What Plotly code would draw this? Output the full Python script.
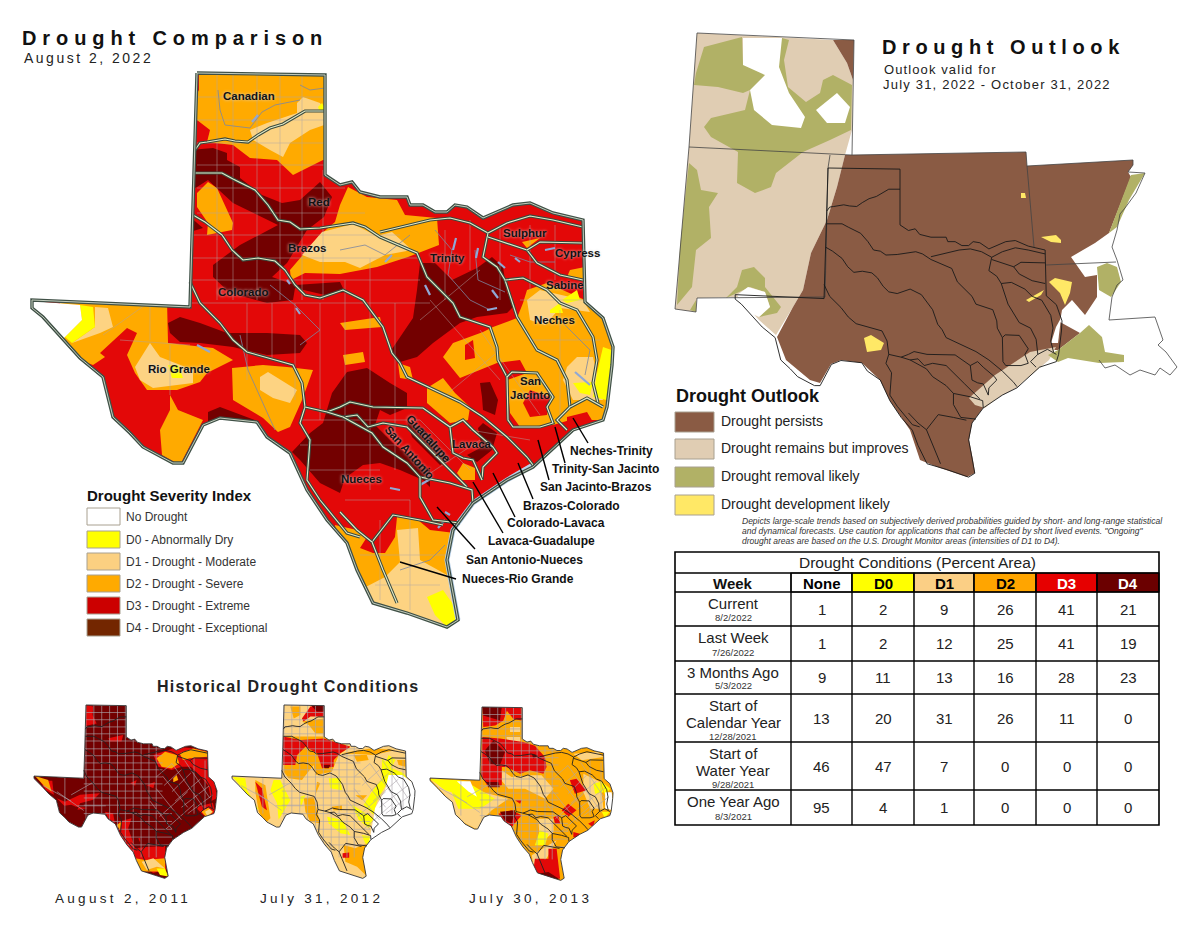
import plotly.graph_objects as go

D0 = "#FFFF00"
D1 = "#FDD382"
D2 = "#FFAA00"
D3 = "#E30808"
D4 = "#730000"
OUT_BROWN = "#8A5B44"
OUT_TAN = "#E0CDB3"
OUT_GREEN = "#B1B166"
OUT_YELLOW = "#FFE866"

# ---- Texas, in main map pixels
texas = [(197,73),(325,75),(325,175),(340,185),(352,182),(360,192),(380,197),(397,197),(407,197),(410,205),
         (423,205),(435,212),(447,212),(455,205),(467,207),(483,218),(513,205),(530,203),(553,213),(583,220),
         (585,302),(603,318),(613,347),(612,365),(607,407),(603,420),(573,430),(533,467),(507,480),(473,503),
         (453,530),(447,560),(453,593),(458,620),(447,627),(407,613),(373,603),(357,570),(347,543),(327,520),
         (307,490),(290,453),(267,437),(257,422),(220,418),(203,425),(183,463),(173,463),(143,447),(130,433),
         (113,417),(103,377),(80,358),(57,333),(43,317),(32,308),(32,300),(190,307),(193,215),(195,150)]

# ---- Aug 2 2022 drought areas
main_d2 = [
    [(190,70),(330,70),(330,160),(323,160),(293,175),(277,160),(250,158),(233,145),(207,142),(210,130),(197,120),(190,120)],
    [(197,193),(208,182),(217,188),(233,223),(232,230),(207,235),(208,223),(197,207)],
    [(60,300),(167,300),(168,343),(213,348),(233,360),(207,373),(200,382),(177,390),(147,390),(135,373),(127,355),(137,333),(127,328),(117,337),(100,353),(105,357),(93,365),(80,360),(60,340)],
    [(170,395),(178,410),(203,420),(193,440),(180,465),(162,455),(160,430),(170,410)],
    [(232,368),(263,365),(287,367),(313,370),(302,400),(290,427),(278,432),(263,418),(233,400)],
    [(348,187),(367,197),(397,200),(405,215),(437,218),(439,245),(408,257),(377,267),(340,274),(305,273),(291,280),(290,270),(320,235),(335,222),(340,205)],
    [(443,357),(453,343),(483,332),(493,327),(517,318),(523,303),(527,290),(547,283),(585,300),(625,320),(625,420),(603,420),(570,420),(553,425),(520,427),(510,413),(507,380),(527,373),(520,360),(497,363),(473,373),(460,378)],
    [(427,388),(443,378),(455,393),(470,407),(468,420),(450,423),(427,403)],
    [(457,473),(463,463),(475,468),(475,480),(462,480)],
    [(398,363),(410,367),(413,380),(400,378)],
    [(340,323),(380,317),(382,327),(345,330)],
    [(343,355),(363,352),(365,362),(345,365)],
    [(335,525),(357,530),(367,537),(360,548),(373,553),(385,553),(395,537),(397,517),(418,520),(430,530),(455,533),(455,580),(345,590),(340,560)],
    [(522,242),(540,238),(527,248)],
    [(570,270),(585,267),(585,280),(567,277)],
]
main_d1 = [
    [(250,130),(267,123),(297,113),(297,103),(303,97),(320,103),(330,123),(310,130),(290,143),(283,157),(270,150),(253,140)],
    [(95,307),(108,308),(113,327),(100,333),(72,343),(95,327)],
    [(135,367),(150,343),(160,357),(193,370),(193,383),(153,388),(140,380)],
    [(260,377),(268,372),(297,390),(290,403),(273,398),(260,390)],
    [(302,255),(322,232),(353,224),(377,236),(392,232),(412,250),(385,255),(360,268),(345,262),(320,262)],
    [(527,300),(540,290),(583,300),(590,312),(560,308),(545,325),(530,320)],
    [(567,367),(577,357),(593,357),(603,400),(573,400),(563,380)],
    [(397,530),(418,528),(420,560),(447,575),(460,600),(460,640),(340,640),(340,590),(360,590),(385,577),(400,562)],
]
main_d0 = [
    [(80,305),(93,307),(95,327),(72,343),(65,337),(82,320)],
    [(168,365),(178,365),(183,378),(172,378)],
    [(318,107),(322,103),(326,110),(320,112)],
    [(562,300),(577,290),(580,300),(567,303)],
    [(550,310),(560,303),(563,313),(550,313)],
    [(573,383),(593,382),(590,395),(580,393)],
    [(603,347),(620,353),(620,403),(593,397),(597,373)],
    [(427,597),(443,590),(450,600),(465,620),(450,630),(435,615)],
]
main_d3_top = [
    [(190,75),(199,75),(199,90),(190,105)],
    [(465,345),(473,340),(475,358),(465,360)],
    [(523,403),(530,390),(550,397),(547,415),(530,417)],
    [(567,417),(587,412),(593,422),(567,430)],
]
main_d4 = [
    [(190,150),(213,148),(227,153),(227,160),(240,167),(240,178),(262,195),(282,203),(300,200),(320,182),(332,197),(324,217),(307,230),(298,245),(287,263),(272,277),(295,285),(340,282),(345,292),(325,295),(295,288),(293,300),(267,303),(230,293),(213,277),(213,265),(240,245),(278,225),(253,213),(233,203),(208,180),(197,187),(190,190)],
    [(190,217),(203,228),(190,232)],
    [(168,323),(180,317),(200,323),(227,333),(267,333),(300,335),(307,343),(300,353),(267,355),(233,347),(200,343),(180,342),(170,333)],
    [(208,412),(220,407),(260,422),(220,418),(208,425)],
    [(292,452),(310,433),(323,423),(332,393),(347,372),(367,368),(390,383),(407,393),(407,408),(390,415),(380,410),(375,425),(395,445),(430,470),(430,487),(423,480),(400,470),(380,463),(363,465),(345,478),(340,493),(320,483),(300,460)],
    [(407,422),(423,428),(450,460),(440,465),(412,437)],
    [(483,423),(497,433),(492,450),(477,462),(467,455),(482,447),(478,428)],
    [(480,383),(490,382),(498,400),(495,415),(483,410),(482,397)],
    [(420,263),(435,263),(452,280),(477,268),(492,257),(503,267),(507,293),(515,305),(507,313),(477,317),(460,323),(433,343),(417,357),(400,362),(390,352),(413,318),(417,290)],
]
main_white = [[(20,300),(80,305),(82,320),(65,337),(57,345),(20,320)]]

# ---- basins
river_canadian = [(195,150),(200,143),(207,142),(225,139),(235,141),(248,142),(258,135),(270,128),(283,124),(295,117),(305,111),(325,111)]
river_red = [(195,173),(222,173),(233,179),(255,190),(268,205),(278,220),(290,222),(300,229),(320,228),(353,223),(365,227),(380,237),(417,253),(427,277),(453,303),(460,317),(490,327),(497,347),(498,360),(503,370),(507,377)]
river_brazos = [(193,215),(205,222),(222,235),(232,250),(243,260),(258,258),(275,261),(285,270),(295,285),(305,295),(320,298),(343,290),(363,300),(383,327),(392,353),(400,363),(407,377),(450,397),(460,402),(483,417),(507,437),(527,457),(533,465)]
river_rio = [(190,282),(200,303),(220,323),(233,340),(247,352),(293,365),(302,383),(305,407),(300,423),(310,440),(307,480),(320,500),(347,533),(360,537)]
river_trinity = [(380,232),(430,220),(450,218),(470,223),(488,233),(483,257),(497,267),(505,280),(517,317),(537,350),(557,360),(567,380),(570,407),(557,420),(567,430)]
river_sulphur = [(488,233),(507,223),(530,216),(553,220),(583,227)]
river_cypress = [(488,237),(527,250),(537,263),(560,275),(583,280)]
river_cypress2 = [(527,250),(540,242),(583,243)]
river_sabine = [(505,280),(523,278),(547,290),(560,303),(577,310),(593,337),(597,360),(593,383),(598,403)]
river_neches = [(570,407),(587,398),(603,407)]
river_sanjac = [(507,377),(512,372),(537,373),(553,397),(547,407),(553,423),(540,427),(513,427),(508,420),(507,377)]
river_colorado = [(305,407),(327,412),(340,407),(350,402),(373,407),(423,408),(450,427),(463,420),(473,430),(493,447),(497,453),(483,467),(482,480)]
river_lavaca = [(450,427),(453,453),(463,458),(473,460),(482,480)]
river_guad = [(327,412),(343,417),(357,415),(368,427),(383,423),(407,427),(440,460),(467,487)]
river_sa = [(343,417),(372,433),(383,447),(407,463),(420,477),(450,483),(472,490),(473,503)]
river_nueces = [(420,477),(420,497),(433,520),(460,523)]
river_south = [(372,542),(393,515),(420,520),(443,525)]
river_south2 = [(372,542),(383,570),(397,603)]
river_sw = [(340,512),(357,530),(372,542)]
basins = [river_canadian, river_red, river_brazos, river_rio, river_trinity, river_sulphur, river_cypress,
          river_cypress2, river_sabine, river_neches, river_sanjac, river_colorado, river_lavaca, river_guad,
          river_sa, river_nueces, river_south, river_south2, river_sw]

streams = [[(218,90),(220,110),(225,125),(250,128),(262,112),(275,105),(300,100)],
           [(300,85),(310,90),(325,88)],
           [(340,250),(365,245),(385,255),(410,235)],
           [(435,230),(452,250),(448,275),(470,300),(490,310)],
           [(475,250),(478,280),(505,292)],
           [(510,255),(530,262),(555,262)],
           [(270,285),(295,305),(320,330),(300,345)],
           [(560,320),(590,350),(585,375)],
           [(400,570),(430,560),(445,545)],
           [(240,335),(248,370),(275,430)]]
lakes = [[(252,122),(258,115)],[(453,250),(456,238)],[(476,258),(478,248)],[(498,262),(505,268)],[(515,258),(520,262)],
         [(492,290),(498,298)],[(487,310),(497,308)],[(545,250),(555,248)],[(575,372),(590,385)],[(385,262),(392,255)],
         [(425,285),(430,295)],[(287,280),(290,284)],[(296,308),(300,314)],[(420,485),(432,478)],[(450,515),(445,512)],
         [(438,528),(445,520)],[(390,488),(400,490)],[(197,345),(210,352)]]
water = [(533,465),(507,480),(473,503),(453,530),(447,560),(453,593),(458,620)]

# county lines (x0, y0, x1, y1)
counties = [(217,75,217,300),(233,75,233,300),(257,75,257,300),(280,75,280,300),(302,75,302,300),(323,170,323,300),
            (197,97,325,97),(197,120,325,120),(197,143,325,143),(197,165,325,165),(197,188,345,188),(197,213,365,213),
            (193,235,400,235),(193,258,420,258),(193,280,420,280),(190,303,430,303),(247,303,247,380),(272,303,272,360),
            (295,303,295,400),(320,303,320,420),(345,280,345,480),(370,258,370,490),(395,303,395,470),(150,305,150,340),
            (120,340,190,345),(170,345,170,395),(103,335,145,305),(300,420,420,420),(300,445,400,445),(310,470,380,470),
            (345,500,410,500),(380,520,380,600),(410,500,410,610),(360,555,450,555),(375,585,440,585),(430,300,500,380),
            (420,320,480,270),(445,230,445,300),(470,220,470,270),(500,225,500,300),(530,225,530,290),(555,225,555,280),
            (480,330,540,415),(440,400,500,350),(520,300,600,300),(530,340,600,340),(560,310,560,415),(420,420,470,470),
            (470,430,530,440),(420,480,480,440)]
# tighter county grid, only for the small maps
grid_x = [197,222,247,272,297,322,347,372,397,420]
grid_y = [97,120,143,165,188,213,235,258,280,303,325,348,370,393,420,445,470,495,520]
east_counties = [(420,303,470,260),(445,330,500,280),(470,350,530,290),(480,380,560,310),(500,400,590,330),(520,420,600,360),
                 (440,300,520,400),(420,340,500,440),(400,380,470,470),(470,260,570,400),(510,250,590,370),(430,430,520,350),
                 (450,470,540,390),(540,240,540,420),(575,250,575,410),(130,305,130,420),(60,330,150,380),(150,360,220,320),
                 (170,395,260,395),(105,350,190,410)]

# ---- historical maps (same map frame as the main map)
hist_2011_d3 = [[(197,73),(220,78),(218,105),(231,132),(197,139)],
                [(268,179),(315,169),(310,190),(273,190)],
                [(411,233),(490,206),(580,217),(586,259),(606,318),(612,371),(595,380),(585,330),(560,300),(530,270),(501,270),(469,281),(427,270)],
                [(390,329),(416,318),(411,339)],
                [(337,323),(358,313),(353,331)],
                [(104,371),(130,382),(178,360),(241,355),(220,376),(178,387),(170,408),(204,402),(165,398),(150,392),(128,395)],
                [(257,414),(283,419),(289,451),(268,435)],
                [(300,446),(342,435),(331,467),(353,531),(448,520),(452,600),(410,610),(353,563),(305,488)],
                [(363,499),(390,494),(390,510),(368,510)],
                [(545,400),(600,385),(610,425),(570,425)],
                [(50,315),(90,315),(95,360),(70,345)]]
hist_2011_d4 = [[(365,450),(440,450),(445,525),(370,525)]]
hist_2011_d2 = [[(421,243),(448,222),(485,233),(493,259),(469,276),(437,270)],
                [(494,227),(537,212),(583,223),(583,238),(527,243),(505,249)],
                [(474,307),(485,297),(490,313),(474,320)],
                [(35,300),(77,313),(88,350),(67,334)],
                [(564,414),(585,401),(601,414),(580,433)],
                [(353,563),(385,568),(448,563),(448,605),(374,605)],
                [(294,456),(310,446),(305,472)]]
hist_2011_d1 = [[(374,574),(411,563),(448,595),(422,590),(390,600)],
                [(575,414),(590,405),(598,415),(582,428)]]
hist_2011_d0 = [[(421,595),(448,595),(458,621),(432,616)]]

hist_2012_d2 = [[(217,78),(249,78),(249,105),(228,116)],
                [(254,126),(323,116),(323,164),(297,164),(276,137)],
                [(196,174),(323,174),(408,206),(371,233),(349,286),(297,297),(291,265),(254,313),(212,307),(196,286)],
                [(418,233),(460,233),(466,249),(429,254)],
                [(381,227),(476,211),(551,217),(482,233)],
                [(556,249),(582,249),(582,270),(561,265)],
                [(106,313),(138,329),(154,435),(138,451),(117,414),(106,350)],
                [(260,371),(291,366),(312,451),(281,446),(265,414)],
                [(302,318),(312,323),(296,361)],
                [(424,361),(461,361),(445,377)],
                [(349,398),(381,393),(381,409),(355,409)],
                [(386,520),(423,531),(471,510),(461,621),(429,590),(392,574)]]
hist_2012_d3 = [[(254,116),(281,78),(323,78),(323,110),(281,110),(259,126)],
                [(194,174),(251,185),(323,180),(408,206),(376,227),(355,249),(355,270),(318,275),(302,227),(265,206),(239,233),(233,265),(194,265)],
                [(106,318),(127,339),(143,409),(127,398)],
                [(383,547),(404,544),(404,561),(383,561)]]
hist_2012_d4 = [[(281,73),(325,73),(323,94),(302,94)],
                [(323,265),(344,265),(339,275),(326,275)]]
hist_2012_d0 = [[(34,302),(74,307),(80,345),(117,408),(106,403),(74,350)],
                [(164,313),(185,313),(217,377),(180,440),(175,387),(154,345)],
                [(249,366),(265,361),(249,403)],
                [(339,307),(376,307),(381,345),(344,339)],
                [(508,243),(540,275),(577,291),(587,307),(529,313),(492,382),(481,424),(450,392),(476,350),(508,307)],
                [(529,233),(551,249),(540,270),(519,259)],
                [(413,392),(481,435),(466,467),(434,440)],
                [(334,430),(381,440),(408,488),(376,483),(339,451)],
                [(444,488),(476,494),(471,520),(455,515)]]
hist_2012_white = [[(529,297),(572,297),(630,340),(630,420),(510,500),(465,525),(481,435),(486,403),(518,345)]]

hist_2013_d1 = [[(32,302),(122,313),(201,345),(281,366),(228,403),(201,430),(186,467),(117,430),(80,355)],
                [(260,275),(291,297),(355,291),(386,291),(424,334),(397,366),(334,334),(281,334),(254,302)],
                [(275,169),(318,169),(318,211),(281,211)],
                [(286,137),(318,137),(318,153),(286,153)],
                [(519,286),(572,313),(583,398),(541,398),(519,345)],
                [(487,222),(566,217),(582,233),(545,238),(514,243)],
                [(376,430),(424,430),(424,472),(381,510)],
                [(355,547),(434,499),(381,595),(360,579)]]
hist_2013_d0 = [[(32,302),(122,307),(149,313),(201,345),(238,366),(191,398),(122,398),(101,345),(80,339)],
                [(381,467),(408,478),(397,515),(365,515)],
                [(551,318),(572,313),(583,345),(556,350)],
                [(572,307),(604,334),(588,355)],
                [(577,408),(603,408),(587,428)]]
hist_2013_white = [[(117,310),(160,310),(181,360),(154,343)],
                   [(588,345),(609,345),(614,403),(588,398)]]
hist_2013_d3 = [[(198,73),(323,73),(323,116),(297,111),(276,85),(265,116),(239,132),(201,137)],
                [(198,169),(254,174),(328,185),(365,197),(397,233),(402,265),(392,286),(349,275),(318,286),(275,265),(260,265),(260,323),(217,329),(194,291)],
                [(476,307),(497,302),(529,339),(492,350)],
                [(450,403),(471,382),(497,403),(471,424)],
                [(302,371),(323,371),(318,382)],
                [(424,425),(440,419),(445,446),(429,446)],
                [(249,414),(291,403),(323,419),(291,457),(275,446)],
                [(487,472),(508,478),(508,494),(487,489)],
                [(534,446),(555,435),(550,457)],
                [(408,526),(434,526),(445,622),(392,611),(360,595),(365,558),(408,558)]]
hist_2013_d4 = [[(198,73),(260,73),(254,116),(201,100)],
                [(233,180),(270,217),(254,259),(222,254),(206,212)],
                [(355,222),(376,227),(360,238)],
                [(254,408),(302,403),(291,446),(270,435)],
                [(371,606),(408,600),(445,624),(419,622)],
                [(212,313),(249,313),(254,329),(217,329)]]

# ---- outlook map, page pixels
out_outer = [(845,155),(852,155),(1026,152),(1027,166),(1133,160),(1133,165),(1128,172),(1131,177),(1109,233),(1095,243),
             (1071,257),(1085,277),(1097,275),(1097,297),(1085,315),(1072,300),(1062,310),(1060,322),(1080,333),(1058,350),
             (1048,350),(1017,387),(1000,396),(983,408),(972,423),(969,440),(973,460),(975,473),(967,477),(940,468),(920,460),(910,430),
             (890,401),(880,380),(862,363),(841,360),(831,364),(820,383),(810,380),(786,360),(777,337),(793,307),(803,290),(811,253),(827,220),(837,187)]
out_corner = [(833,40),(854,40),(853,80),(847,63)]
out_tan = [(675,309),(689,147),(697,33),(833,40),(847,63),(853,80),(852,130),(845,155),(837,187),(827,220),(811,253),(803,290),(793,307),(776,335),(759,320),(738,297),(697,298),(696,312)]
out_tan_coast = [(1056,347),(1049,360),(1017,387),(1000,396),(985,408),(975,405),(969,398),(995,375),(1030,352)]
out_green = [
    [(782,38),(789,40),(784,60),(788,87),(806,102),(820,93),(823,80),(833,75),(852,85),(851,130),(830,140),(803,152),(776,173),(771,187),(755,193),(737,183),(738,152),(711,137),(704,127),(711,118),(745,110),(750,90),(743,65),(743,38)],
    [(704,47),(742,37),(743,65),(765,75),(762,83),(750,90),(743,93),(718,87),(694,85),(696,73)],
    [(689,163),(697,170),(701,190),(718,193),(709,207),(711,238),(696,250),(692,287),(677,305),(680,247),(687,180)],
    [(726,298),(737,287),(742,270),(754,267),(765,278),(765,287),(781,307),(777,313),(759,317),(770,307),(765,292),(750,287),(737,293)],
    [(690,310),(696,300),(696,312)],
    [(1131,175),(1145,173),(1129,200),(1117,227),(1109,233)],
    [(1097,267),(1107,263),(1117,267),(1121,282),(1111,297),(1099,290)],
    [(1058,350),(1080,333),(1089,325),(1102,337),(1105,352),(1124,355),(1124,362),(1099,363),(1068,358),(1058,362),(1048,355)],
]
out_white = [
    [(743,38),(782,38),(779,67),(789,93),(805,117),(801,128),(772,125),(754,110),(750,90),(765,75),(743,65)],
    [(816,110),(837,93),(850,107),(845,123),(827,123)],
    [(737,295),(748,287),(765,292),(770,307),(759,317),(748,312)],
    [(1051,343),(1056,327),(1061,318),(1058,343)],
]
out_yellow = [
    [(1021,193),(1025,193),(1026,198),(1021,198)],
    [(1041,237),(1056,235),(1061,240),(1061,243),(1051,242)],
    [(1049,282),(1055,278),(1072,282),(1070,293),(1065,305),(1060,293),(1054,287)],
    [(1026,300),(1044,290),(1041,295),(1029,302)],
    [(864,338),(871,335),(884,343),(881,350),(867,352)],
]
state_lines = [
    [(675,309),(689,147),(697,33),(854,40),(852,155),(1026,152),(1027,166),(1133,160),(1133,165),(1128,172),(1145,173)],
    [(689,147),(852,155)],
    [(830,155),(828,168)],
    [(1027,166),(1034,247)],
    [(1046,265),(1116,262)],
    [(1145,173),(1136,193),(1125,208),(1120,214),(1117,230),(1112,247),(1117,260),(1123,280),(1117,285),(1112,297),(1109,320),(1155,317),
     (1163,340),(1158,345),(1166,352),(1177,367),(1170,375),(1160,368),(1155,375),(1140,370),(1130,375),(1115,365),(1105,368),(1099,360)],
    [(828,168),(825,297),(697,298),(696,312),(675,309)],
]

# ---- table
table_cols = ["None", "D0", "D1", "D2", "D3", "D4"]
week_labels = [["Current"], ["Last Week"], ["3 Months Ago"], ["Start of", "Calendar Year"], ["Start of", "Water Year"], ["One Year Ago"]]
week_dates = ["8/2/2022", "7/26/2022", "5/3/2022", "12/28/2021", "9/28/2021", "8/3/2021"]
v_none = [1, 1, 9, 13, 46, 95]
v_d0 = [2, 2, 11, 20, 47, 4]
v_d1 = [9, 12, 13, 31, 7, 1]
v_d2 = [26, 25, 16, 26, 0, 0]
v_d3 = [41, 41, 28, 11, 0, 0]
v_d4 = [21, 19, 23, 0, 0, 0]

severity_labels = ["No Drought", "D0 - Abnormally Dry", "D1 - Drought - Moderate", "D2 - Drought - Severe",
                   "D3 - Drought - Extreme", "D4 - Drought - Exceptional"]
severity_colors = ["#FFFFFF", "#FFFF00", "#FBD081", "#FFAA00", "#CC0000", "#732600"]
outlook_labels = ["Drought persists", "Drought remains but improves", "Drought removal likely", "Drought development likely"]
outlook_colors = [OUT_BROWN, OUT_TAN, OUT_GREEN, OUT_YELLOW]

FONT = "Liberation Sans, Arial, sans-serif"
W, H = 1200, 927

fig = go.Figure()
axes = {}


def add_axes(n, px0, px1, py0, py1, xr, yr):
    sx = "" if n == 1 else str(n)
    axes["xaxis" + sx] = dict(domain=[px0 / W, px1 / W], range=xr, visible=False, fixedrange=True, anchor="y" + sx)
    axes["yaxis" + sx] = dict(domain=[1 - py1 / H, 1 - py0 / H], range=yr, visible=False, fixedrange=True, anchor="x" + sx)


def inset(n, left, top, kx, ky, left_x=32, top_y=73):
    # same map frame, scaled down
    x0, x1, y0, y1 = 25, 625, 66, 634
    add_axes(n, left + (x0 - left_x) * kx, left + (x1 - left_x) * kx, top + (y0 - top_y) * ky, top + (y1 - top_y) * ky,
             [x0, x1], [y1, y0])


add_axes(1, 0, W, 0, H, [0, W], [H, 0])
add_axes(2, 20, 630, 60, 640, [20, 630], [640, 60])
inset(3, 34, 705, 0.315, 0.313)
inset(4, 232, 705, 0.315, 0.313)
inset(5, 430, 707, 0.315, 0.313)
inset(6, 828, 168, 0.5625, 0.558, left_x=197)


def ref(n):
    return ("x", "y") if n == 1 else ("x%d" % n, "y%d" % n)


def fill(points, color, n):
    xa, ya = ref(n)
    fig.add_trace(go.Scatter(x=[p[0] for p in points], y=[p[1] for p in points], mode="lines", fill="toself",
                             fillcolor=color, line=dict(width=0), hoverinfo="skip", showlegend=False, xaxis=xa, yaxis=ya))


def line(points, color, width, n):
    xa, ya = ref(n)
    fig.add_trace(go.Scatter(x=[p[0] for p in points], y=[p[1] for p in points], mode="lines",
                             line=dict(color=color, width=width), hoverinfo="skip", showlegend=False, xaxis=xa, yaxis=ya))


def multiline(parts, color, width, n):
    pts = []
    for part in parts:
        pts += list(part) + [(None, None)]
    line(pts, color, width, n)


def county_lines(color, width, n, fine=False):
    parts = [[(s[0], s[1]), (s[2], s[3])] for s in counties]
    if fine:
        parts = [[(s[0], s[1]), (s[2], s[3])] for s in east_counties]
        parts += [[(x, 73), (x, 560)] for x in grid_x]
        parts += [[(190, y), (440 if y < 400 else 470, y)] for y in grid_y]
    multiline(parts, color, width, n)


def mask(n, x0, x1, y0, y1):
    # white sheet with a Texas shaped hole, hides whatever runs past the border
    sheet = [(x0, y0), (x0, y1), (x1, y1), (x1, y0), (x0, y0), (None, None)] + texas + [texas[0]]
    fill(sheet, "#FFFFFF", n)


# ---- main map
fill(texas, D3, 2)
for color, polys in [(D2, main_d2), (D1, main_d1), (D0, main_d0), (D3, main_d3_top), (D4, main_d4), ("#FFFFFF", main_white)]:
    for p in polys:
        fill(p, color, 2)
county_lines("rgba(175,165,165,0.6)", 0.8, 2)
multiline(streams, "rgba(125,135,160,0.8)", 1, 2)
multiline(lakes, "#8FA8D6", 2.2, 2)
mask(2, 20, 630, 60, 640)
line(water, "#B9D1EA", 5, 2)
for b in basins:
    line(b, "#3A4A3E", 3.2, 2)
    line(b, "#E4ECC8", 1.1, 2)
line(texas + [texas[0]], "#3F5046", 3.4, 2)
line(texas + [texas[0]], "#C3CCBC", 1, 2)

# ---- historical maps
for n, base, layers in [
    (3, D4, [(D3, hist_2011_d3), (D4, hist_2011_d4), (D2, hist_2011_d2), (D1, hist_2011_d1), (D0, hist_2011_d0)]),
    (4, D1, [(D2, hist_2012_d2), (D0, hist_2012_d0), (D3, hist_2012_d3), (D4, hist_2012_d4), ("#FFFFFF", hist_2012_white)]),
    (5, D2, [(D1, hist_2013_d1), (D0, hist_2013_d0), ("#FFFFFF", hist_2013_white), (D3, hist_2013_d3), (D4, hist_2013_d4)]),
]:
    fill(texas, base, n)
    for color, polys in layers:
        for p in polys:
            fill(p, color, n)
    county_lines("rgba(172,165,172,0.9)", 0.7, n, fine=True)
    mask(n, 25, 625, 66, 634)
    multiline(basins, "#222222", 0.9, n)
    line(texas + [texas[0]], "#333333", 0.9, n)

# ---- outlook map
fill(out_tan, OUT_TAN, 1)
fill(out_outer, OUT_BROWN, 1)
fill(out_corner, OUT_BROWN, 1)
fill(out_tan_coast, OUT_TAN, 1)
for p in out_green:
    fill(p, OUT_GREEN, 1)
for p in out_white:
    fill(p, "#FFFFFF", 1)
for p in out_yellow:
    fill(p, OUT_YELLOW, 1)
multiline(state_lines, "#444444", 0.8, 1)
multiline(basins, "#1A1A1A", 0.9, 6)
line(texas + [texas[0]], "#1A1A1A", 0.9, 6)

# ---- text and boxes
notes = []
boxes = []


def text(x, y, s, size, color="#111111", bold=False, anchor="left", spacing=None, italic=False, angle=0, shadow=None):
    if bold:
        s = "<b>%s</b>" % s
    if italic:
        s = "<i>%s</i>" % s
    if spacing:
        s = '<span style="letter-spacing:%spx">%s</span>' % (spacing, s)
    f = dict(family=FONT, size=size, color=color)
    if shadow:
        f["shadow"] = shadow
    if anchor == "left":
        x -= 2  # annotation box padding
    notes.append(dict(x=x, y=y, xref="x", yref="y", text=s, showarrow=False, xanchor=anchor, yanchor="middle",
                      font=f, textangle=angle, align=anchor))


def box(x0, y0, x1, y1, fillc="rgba(0,0,0,0)", color="#000000", width=1):
    boxes.append(dict(type="rect", xref="x", yref="y", x0=x0, y0=y0, x1=x1, y1=y1, fillcolor=fillc,
                      line=dict(color=color, width=width), layer="above"))


def seg(x0, y0, x1, y1, color="#000000", width=1.4):
    boxes.append(dict(type="line", xref="x", yref="y", x0=x0, y0=y0, x1=x1, y1=y1, line=dict(color=color, width=width), layer="above"))


text(22, 38, "Drought Comparison", 20, bold=True, spacing=5.9)
text(24, 58, "August 2, 2022", 14, color="#222222", spacing=2.5)
text(882, 47, "Drought Outlook", 20, bold=True, spacing=5.6)
text(884, 69, "Outlook valid for", 13, color="#222222", spacing=1.1)
text(883, 84, "July 31, 2022 - October 31, 2022", 13, color="#222222", spacing=1.2)
text(157, 686, "Historical Drought Conditions", 16, bold=True, color="#222222", spacing=1.2)
text(123, 898, "August 2, 2011", 13.5, color="#222222", anchor="center", spacing=3.3)
text(321, 898, "July 31, 2012", 13.5, color="#222222", anchor="center", spacing=3.3)
text(530, 898, "July 30, 2013", 13.5, color="#222222", anchor="center", spacing=3.3)

HALO = "0px 0px 3px #D8D8D8"
for x, y, s in [(249, 96, "Canadian"), (319, 202, "Red"), (307, 248, "Brazos"), (243, 292, "Colorado"), (179, 369, "Rio Grande"),
                (361, 479, "Nueces"), (447, 258, "Trinity"), (525, 233, "Sulphur"), (577, 253, "Cypress"), (565, 285, "Sabine"),
                (554, 320, "Neches"), (530, 381, "San"), (530, 395, "Jacinto"), (472, 444, "Lavaca")]:
    text(x, y, s, 11.5, bold=True, anchor="center", shadow=HALO)
text(428, 438, "Guadalupe", 11.5, bold=True, anchor="center", angle=48, shadow=HALO)
text(409, 452, "San Antonio", 11.5, bold=True, anchor="center", angle=48, shadow=HALO)

for x, y, s, x0, y0, x1, y1 in [
    (570, 451, "Neches-Trinity", 573, 418, 588, 443),
    (552, 469, "Trinity-San Jacinto", 555, 427, 565, 463),
    (540, 487, "San Jacinto-Brazos", 538, 440, 549, 480),
    (523, 506, "Brazos-Colorado", 518, 463, 533, 499),
    (507, 523, "Colorado-Lavaca", 493, 473, 515, 517),
    (488, 541, "Lavaca-Guadalupe", 473, 482, 503, 533),
    (466, 560, "San Antonio-Nueces", 437, 507, 475, 549),
    (462, 579, "Nueces-Rio Grande", 400, 562, 456, 579),
]:
    text(x, y, s, 12, bold=True)
    seg(x0, y0, x1, y1)

text(87, 495, "Drought Severity Index", 15, bold=True)
sev_top = [508, 531, 553, 575, 597, 619]
for top, s, c in zip(sev_top, severity_labels, severity_colors):
    box(87, top, 120, top + 17, c, "#A8A090", 1)
    text(126, top + 9, s, 12, color="#333333")

text(676, 396, "Drought Outlook", 18, bold=True)
out_top = [412, 439, 467, 495]
for top, s, c in zip(out_top, outlook_labels, outlook_colors):
    box(675, top, 714, top + 20, c, "#A8A090", 1)
    text(721, top + 9, s, 14, color="#222222")
for y, s in [(521, "Depicts large-scale trends based on subjectively derived probabilities guided by short- and long-range statistical"),
             (531, "and dynamical forecasts. Use caution for applications that can be affected by short lived events. \"Ongoing\""),
             (541, "drought areas are based on the U.S. Drought Monitor areas (intensities of D1 to D4).")]:
    text(742, y, s, 8.5, color="#333333", italic=True)

# table
col_x = [675, 791, 852, 914, 974, 1036, 1097, 1159]
row_y = [592, 626, 661, 694, 742, 790, 825]
head_fill = ["#FFFFFF", "#FFFF00", "#FBCF85", "#FFA500", "#E60000", "#6B0000"]
head_text = ["#000000", "#000000", "#000000", "#000000", "#FFFFFF", "#FFFFFF"]
table_values = [v_none, v_d0, v_d1, v_d2, v_d3, v_d4]

for i in range(6):
    box(col_x[i + 1], 573, col_x[i + 2], 592, head_fill[i], "#000000", 1.2)
    text((col_x[i + 1] + col_x[i + 2]) / 2, 583, table_cols[i], 15, color=head_text[i], bold=True, anchor="center")
text((col_x[0] + col_x[1]) / 2, 583, "Week", 15, bold=True, anchor="center")
text((col_x[0] + col_x[7]) / 2, 562, "Drought Conditions (Percent Area)", 15.5, color="#222222", anchor="center")
box(675, 552, 1159, 825, width=1.6)
seg(675, 573, 1159, 573, width=1.4)
for y in row_y[:-1]:
    seg(675, y, 1159, y, width=1.4)
for x in col_x[1:-1]:
    seg(x, 573, x, 825, width=1.4)

for r in range(6):
    top, bottom = row_y[r], row_y[r + 1]
    cx = (col_x[0] + col_x[1]) / 2
    for k, s in enumerate(week_labels[r]):
        text(cx, top + 11 + k * 17, s, 15, color="#222222", anchor="center")
    text(cx, bottom - (9 if len(week_labels[r]) == 1 else 6), week_dates[r], 9.5, color="#333333", anchor="center")
    for c in range(6):
        text((col_x[c + 1] + col_x[c + 2]) / 2, (top + bottom) / 2, str(table_values[c][r]), 15, color="#222222", anchor="center")

fig.update_layout(width=W, height=H, margin=dict(l=0, r=0, t=0, b=0), paper_bgcolor="#FFFFFF", plot_bgcolor="rgba(0,0,0,0)",
                  showlegend=False, annotations=notes, shapes=boxes, font=dict(family=FONT), **axes)
fig.write_html("out.html", config=dict(displayModeBar=False), post_script="document.body.style.margin='0';")
